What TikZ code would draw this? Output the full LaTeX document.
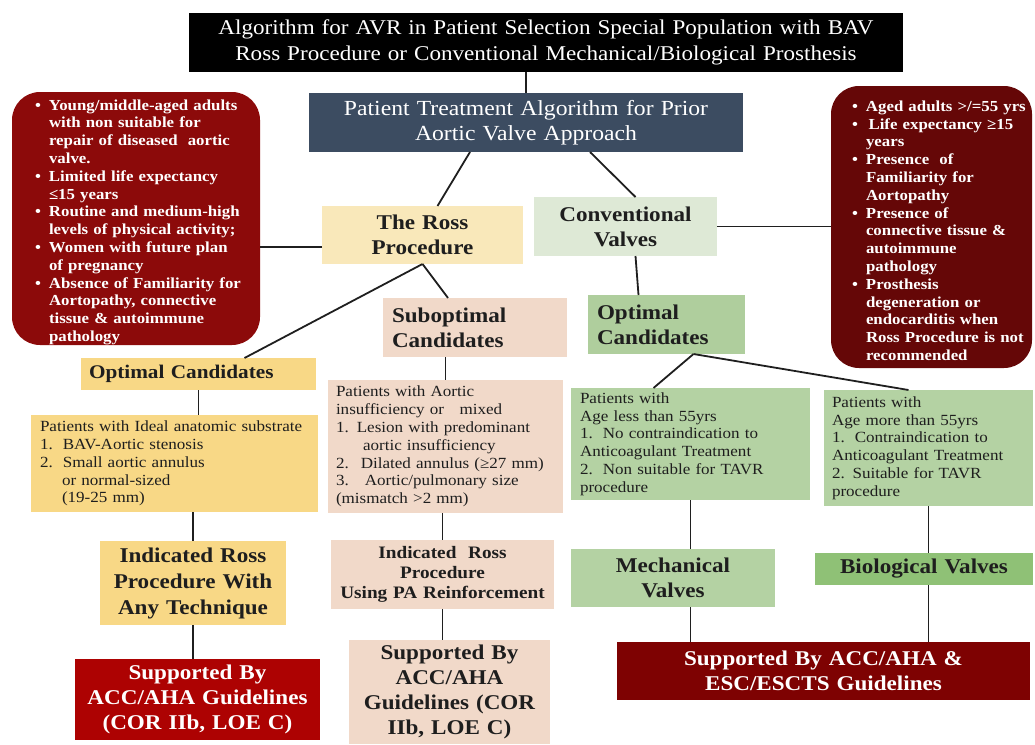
\documentclass[tikz,border=0pt]{standalone}
\usepackage{fontspec}
\setmainfont{Liberation Serif}[FakeStretch=1.1]
\definecolor{txt}{HTML}{1E1E1E}
\definecolor{slate}{HTML}{3C4C61}
\definecolor{redA}{HTML}{8C0A0A}
\definecolor{redB}{HTML}{650707}
\definecolor{redC}{HTML}{AD0202}
\definecolor{redD}{HTML}{7E0202}
\definecolor{rossY}{HTML}{F9E8BA}
\definecolor{convG}{HTML}{DEE9D6}
\definecolor{peach}{HTML}{F1D9C9}
\definecolor{optG}{HTML}{AFCE9D}
\definecolor{goldY}{HTML}{F8D886}
\definecolor{detG}{HTML}{B4D2A3}
\definecolor{bioG}{HTML}{8FC176}
\newcommand\bitem[1]{\par\noindent\hangindent=17pt\hangafter=1\makebox[17pt][l]{\hspace{3pt}•}#1\par}
\newcommand\fsTitle{\fontsize{21}{26}\selectfont}
\newcommand\fsBlue{\fontsize{21.5}{25}\selectfont}
\newcommand\fsBul{\fontsize{15.3}{17.8}\selectfont\bfseries}
\newcommand\fsHead{\fontsize{21}{25}\selectfont\bfseries}
\newcommand\fsDet{\fontsize{15.5}{17.8}\selectfont}
\begin{document}
\begin{tikzpicture}[x=1pt,y=-1pt,
  box/.style={draw=none, inner sep=0pt, outer sep=0pt, align=center, text=txt},
  rbox/.style={box, rounded corners=28pt},
  btext/.style={box, anchor=west, align=left, text=white, font=\fsBul},
  conn/.style={line width=1.8pt, draw=black!88}]
\useasboundingbox (0,0) rectangle (1035,744);
% top
\node[box, fill=black, text=white, minimum width=714pt, minimum height=59pt, text width=700pt, font=\fsTitle] (title) at (546,42.5)
  {Algorithm for AVR in Patient Selection Special Population with BAV\\Ross Procedure or Conventional Mechanical/Biological Prosthesis};
\node[box, fill=slate, text=white, minimum width=434pt, minimum height=59pt, text width=420pt, font=\fsBlue] (blue) at (526,122.5)
  {Patient Treatment Algorithm for Prior\\Aortic Valve Approach};
% side boxes
\node[rbox, fill=redA, minimum width=248pt, minimum height=253pt] (leftred) at (136,218.5) {};
\node[btext, text width=212pt] (leftredtxt) at (32,218.5) {%
\bitem{Young/middle-aged adults\newline with non suitable for\newline repair of diseased\ \ aortic\newline valve.}
\bitem{Limited life expectancy\newline ≤15 years}
\bitem{Routine and medium-high\newline levels of physical activity;}
\bitem{Women with future plan\newline of pregnancy}
\bitem{Absence of Familiarity for\newline Aortopathy, connective\newline tissue \& autoimmune\newline pathology}};
\node[rbox, fill=redB, minimum width=201pt, minimum height=282pt] (rightred) at (931.5,227) {};
\node[btext, text width=182pt] (rightredtxt) at (849,227) {%
\bitem{Aged adults >/=55 yrs}
\bitem{\,Life expectancy ≥15\newline years}
\bitem{Presence\ \ of\newline Familiarity for\newline Aortopathy}
\bitem{Presence of\newline connective tissue \&\newline autoimmune\newline pathology}
\bitem{Prosthesis\newline degeneration or\newline endocarditis when\newline Ross Procedure is not\newline recommended}};
% level 2
\node[box, fill=rossY, minimum width=201pt, minimum height=58pt, text width=190pt, font=\fsHead] (ross) at (422.5,235) {The Ross\\Procedure};
\node[box, fill=convG, minimum width=183pt, minimum height=59pt, text width=175pt, font=\fsHead] (conv) at (625.5,226.5) {Conventional\\Valves};
% level 3
\node[box, fill=peach, minimum width=184pt, minimum height=59pt, text width=166pt, align=left, font=\fsHead] (subopt) at (475,327.5) {Suboptimal\\Candidates};
\node[box, fill=optG, minimum width=157pt, minimum height=59pt, text width=139pt, align=left, font=\fsHead] (optgreen) at (666.5,324.5) {Optimal\\Candidates};
\node[box, fill=goldY, minimum width=235pt, minimum height=32pt, text width=219pt, align=left, font=\fontsize{19.3}{22}\selectfont\bfseries] (optyellow) at (198.5,374) {Optimal Candidates};
% details
\node[box, fill=goldY, minimum width=287pt, minimum height=97pt, text width=269pt, align=left, font=\fsDet] (detY) at (174.5,463.5)
  {Patients with Ideal anatomic substrate\newline 1.\hspace{10pt}BAV-Aortic stenosis\newline 2.\hspace{10pt}Small aortic annulus\newline \hspace*{22pt}or normal-sized\newline \hspace*{22pt}(19-25 mm)};
\node[box, fill=peach, minimum width=235pt, minimum height=133pt, text width=219pt, align=left, font=\fsDet] (detS) at (445.5,446.5)
  {Patients with Aortic\newline insufficiency or\ \ \ mixed\newline 1.\hspace{8pt}Lesion with predominant\newline \hspace*{27pt}aortic insufficiency\newline 2.\hspace{12pt}Dilated annulus (≥27 mm)\newline 3.\hspace{16pt}Aortic/pulmonary size\newline (mismatch >2 mm)};
\node[box, fill=detG, minimum width=239pt, minimum height=112pt, text width=221pt, align=left, font=\fsDet] (detG1) at (690.5,444)
  {Patients with\newline Age less than 55yrs\newline 1.\hspace{10pt}No contraindication to\newline Anticoagulant Treatment\newline 2.\hspace{10pt}Non suitable for TAVR\newline procedure};
\node[box, fill=detG, minimum width=209pt, minimum height=116pt, text width=193pt, align=left, font=\fsDet] (detG2) at (928.5,448)
  {Patients with\newline Age more than 55yrs\newline 1.\hspace{10pt}Contraindication to\newline Anticoagulant Treatment\newline 2. Suitable for TAVR\newline procedure};
% indications
\node[box, fill=goldY, minimum width=186pt, minimum height=84pt, text width=182pt, font=\fontsize{21}{26}\selectfont\bfseries] (indY) at (193,583) {Indicated Ross\\Procedure With\\Any Technique};
\node[box, fill=peach, minimum width=223pt, minimum height=69pt, text width=221pt, font=\fontsize{17.5}{20}\selectfont\bfseries] (indS) at (442.5,574.5) {Indicated\ \ Ross\\Procedure\\Using PA Reinforcement};
\node[box, fill=detG, minimum width=204pt, minimum height=58pt, text width=196pt, font=\fsHead] (mech) at (673,578) {Mechanical\\Valves};
\node[box, fill=bioG, minimum width=218pt, minimum height=32pt, text width=210pt, font=\fsHead] (bio) at (924,569) {Biological Valves};
% supported
\node[box, fill=redC, text=white, minimum width=245pt, minimum height=81pt, text width=239pt, font=\fsHead] (supR) at (197.5,699.5) {Supported By\\ACC/AHA Guidelines\\(COR IIb, LOE C)};
\node[box, fill=peach, minimum width=201pt, minimum height=104pt, text width=197pt, font=\fsHead] (supS) at (449.5,692) {Supported By\\ACC/AHA\\Guidelines (COR\\IIb, LOE C)};
\node[box, fill=redD, text=white, minimum width=413pt, minimum height=58pt, text width=405pt, font=\fsHead] (supR2) at (823.5,671) {Supported By ACC/AHA \&\\ESC/ESCTS Guidelines};
% connectors
\draw[conn] (blue.north |- title.south) -- (blue.north);
\draw[conn] ([xshift=-56pt]blue.south) -- ([xshift=15pt]ross.north);
\draw[conn] ([xshift=64pt]blue.south) -- ([xshift=10pt]conv.north);
\draw[conn] ([yshift=-12pt]ross.west) -- ([yshift=-12pt]ross.west -| leftred.east);
\draw[conn] (conv.east) -- (conv.east -| rightred.west);
\draw[conn] (ross.south) -- ([xshift=-27pt]subopt.north);
\draw[conn] (ross.south) -- ([xshift=46pt]optyellow.north);
\draw[conn] ([xshift=10pt]conv.south) -- ([xshift=-28pt]optgreen.north);
\draw[conn] (optyellow.south) -- (optyellow.south |- detY.north);
\draw[conn] (detS.north |- subopt.south) -- (detS.north);
\draw[conn] ([xshift=27pt]optgreen.south) -- ([xshift=-37pt]detG1.north);
\draw[conn] ([xshift=27pt]optgreen.south) -- ([xshift=-20pt]detG2.north);
\draw[conn] (indY.north |- detY.south) -- (indY.north);
\draw[conn] (indS.north |- detS.south) -- (indS.north);
\draw[conn] (indY.south) -- (indY.south |- supR.north);
\draw[conn] (indS.south) -- (indS.south |- supS.north);
\draw[conn] (detG1.south) -- (detG1.south |- mech.north);
\draw[conn] (detG2.south) -- (detG2.south |- bio.north);
\draw[conn] (mech.south -| detG1.south) -- (detG1.south |- supR2.north);
\draw[conn] (bio.south -| detG2.south) -- (detG2.south |- supR2.north);
\end{tikzpicture}
\end{document}
